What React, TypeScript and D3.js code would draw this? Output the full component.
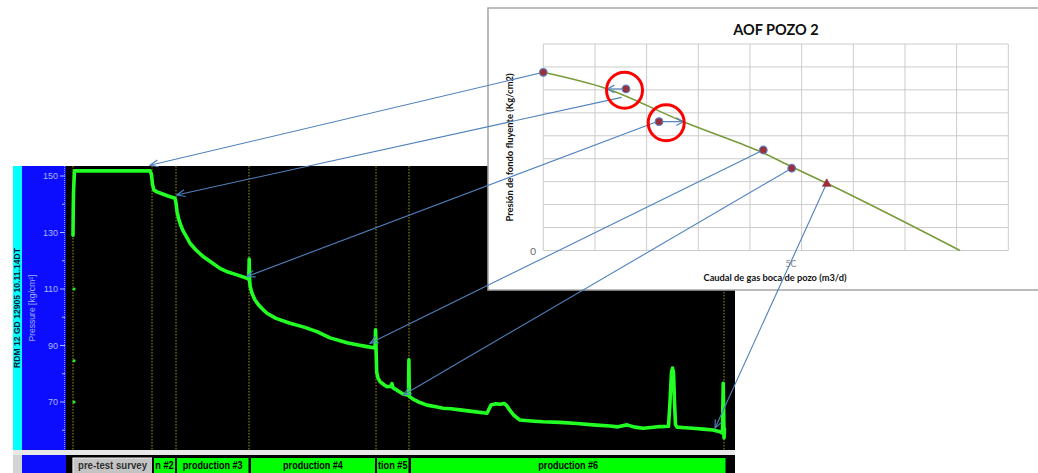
import React from "react";
import * as d3 from "d3";

const W = 1038;
const H = 473;

// Bottomhole pressure record: elapsed time (h) and pressure (kg/cm²)
const elapsedHours = [
  0.7, 0.72, 0.75, 0.8, 0.85, 3.0, 6.0, 8.4, 8.55, 8.65, 8.8, 9.1, 9.6, 10.2, 10.9,
  11.0, 11.1, 11.25, 11.5, 11.75, 12.1, 12.4, 13.0, 13.75, 14.6, 15.4, 16.2, 17.1, 18.1,
  18.28, 18.32, 18.36, 18.42, 18.6, 18.9, 19.3, 19.75, 20.1, 21.0, 22.4, 23.8, 25.1, 26.4,
  27.5, 28.1, 29.2, 30.1, 30.9, 30.96, 31.01, 31.07, 31.2, 31.4, 31.8, 32.1, 32.5, 32.6,
  32.7, 33.1, 33.7, 34.25, 34.29, 34.33, 34.7, 35.4, 36.1, 37.0, 37.7, 38.5, 39.4, 40.8,
  42.1, 42.3, 42.5, 43.0, 43.4, 43.8, 44.1, 44.4, 44.75, 45.4, 46.5, 47.7, 49.4, 51.1,
  52.7, 54.4, 55.2, 56.1, 56.9, 57.7, 58.5, 59.4, 60.25, 60.4, 60.55, 60.65, 60.75, 60.85,
  60.95, 61.1, 61.9, 62.7, 63.7, 64.7, 65.4, 65.65, 65.72, 65.77, 65.8, 65.85,
];
const pressure = [
  129.0, 137.0, 144.0, 148.0, 151.8, 151.8, 151.8, 151.8, 150.5, 147.0, 145.0, 144.4, 143.7, 142.9, 142.1,
  140.5, 137.5, 135.0, 132.3, 130.3, 128.2, 126.2, 123.8, 121.4, 119.3, 117.3, 116.0, 115.0, 113.8,
  113.4, 120.6, 113.0, 110.8, 108.5, 106.1, 104.2, 102.6, 101.4, 99.6, 97.9, 96.5, 94.9, 92.7,
  91.6, 91.0, 90.2, 89.6, 89.1, 95.6, 88.0, 80.5, 78.5, 77.2, 76.1, 75.4, 75.6, 76.5,
  75.0, 74.2, 72.8, 72.4, 84.9, 72.0, 71.0, 69.8, 68.9, 68.3, 67.8, 67.6, 67.2, 66.6,
  66.0, 67.5, 68.9, 69.4, 69.2, 69.5, 68.6, 67.0, 65.4, 63.6, 63.3, 63.0, 62.8, 62.4,
  61.9, 61.5, 61.2, 61.9, 61.1, 60.7, 61.0, 61.3, 61.4, 70.0, 80.5, 82.0, 80.5, 70.0,
  62.0, 61.1, 60.9, 60.7, 60.4, 60.1, 59.5, 59.0, 76.6, 66.0, 57.3, 60.5,
];

// Spot readings taken during the pre-test survey
const surveyHours = [0.8, 0.8, 0.8];
const surveyPressure = [110, 84.6, 70];

// Flow-period boundaries
const eventHours = [0.7, 8.6, 11.0, 18.3, 31.0, 34.3, 65.8];

// Flow periods as labelled on the bar (narrow periods show only the end of their name)
const phaseLabels = ["pre-test survey", "n #2", "production #3", "production #4", "tion #5", "production #6"];
const phaseStart = [0.7, 8.8, 11.1, 18.5, 31.1, 34.5];
const phaseEnd = [8.6, 10.9, 18.25, 30.9, 34.25, 65.95];

const pressureTicks = [70, 90, 110, 130, 150];
const pressureMinorTicks = [60, 80, 100, 120, 140];

// AOF curve: gas rate (m3/d) vs flowing bottomhole pressure (kg/cm2)
const aofFlow = [0, 12390, 27100, 38070, 41300, 48080, 54850, 80650];
const aofPressure = [155.3, 140.8, 112.3, 93.4, 87.6, 73.0, 58.6, 0];

// Test points plotted on the AOF chart
const testFlow = [0, 16000, 22400, 42580, 48080, 54850];
const testPressure = [155.3, 140.8, 112.3, 87.6, 71.7, 58.6];
const testMarker = ["circle", "circle", "circle", "circle", "circle", "triangle"];

// Shifted rates for the two flagged points
const flaggedFrom = [1, 2];
const correctedFlow = [12390, 27100];
const flagCenterFlow = [15720, 23790];
const flagCenterPressure = [139.7, 111.3];

// Connectors from AOF points to the matching pressure on the record
const linkFlow = [0, 15170, 21950, 42580, 48080, 54850];
const linkFlowPressure = [155.3, 133.5, 112.3, 87.6, 71.7, 58.6];
const linkHours = [8.4, 11.07, 18.07, 30.4, 33.73, 64.9];
const linkPressure = [153.8, 143.3, 114.4, 90.8, 72.5, 60.7];

const flowGrid = d3.range(0, 90001, 10000);
const pressureGrid = d3.range(0, 181, 20);

const NARROW = "'Liberation Sans Narrow', 'Liberation Sans', Arial, sans-serif";
const SANS = "'Liberation Sans', Arial, sans-serif";
const CAL = "Lato, 'Open Sans', sans-serif";

function arrowHead(x1: number, y1: number, x2: number, y2: number, len = 9, ang = 0.42) {
  const a = Math.atan2(y2 - y1, x2 - x1);
  return `M${x2 - len * Math.cos(a - ang)},${y2 - len * Math.sin(a - ang)}L${x2},${y2}L${x2 - len * Math.cos(a + ang)},${y2 - len * Math.sin(a + ang)}`;
}

export default function App() {
  // pressure record scales
  const x = d3.scaleLinear().domain([0, 66.9]).range([66, 735]);
  const y = d3.scaleLinear().domain([70, 150]).range([402, 176]);
  // AOF scales
  const qx = d3.scaleLinear().domain([0, 90000]).range([543.3, 1008.3]);
  const py = d3.scaleLinear().domain([0, 180]).range([250.5, 44]);

  const recordPath = d3
    .line<number>()
    .x((_, i) => x(elapsedHours[i]))
    .y((d) => y(d))(pressure) as string;

  const aofPath = d3
    .line<number>()
    .x((d) => qx(d))
    .y((_, i) => py(aofPressure[i]))
    .curve(d3.curveMonotoneX)(aofFlow) as string;

  const plotTop = 166;
  const plotBottom = 450;
  const rowTop = 455;
  const barTop = 458;
  const linkColor = "#4f81bd";

  return (
    <div style={{ position: "fixed", left: 0, top: 0 }}>
      <svg width={W} height={H} viewBox={`0 0 ${W} ${H}`} style={{ display: "block", background: "#fff" }}>
        <defs>
          <clipPath id="plot-clip">
            <rect x={66} y={plotTop} width={669} height={plotBottom - plotTop} />
          </clipPath>
          <clipPath id="side-clip">
            <rect x={13} y={rowTop} width={9} height={H - rowTop} />
          </clipPath>
        </defs>

        {/* pressure record panel */}
        <rect x={13} y={plotTop} width={9} height={plotBottom - plotTop} fill="#00ffff" />
        <rect x={22} y={plotTop} width={44} height={plotBottom - plotTop} fill="#0c0cff" />
        <rect x={66} y={plotTop} width={669} height={plotBottom - plotTop} fill="#000" />
        <text
          transform={`translate(19.5,308) rotate(-90)`}
          textAnchor="middle"
          fontFamily={NARROW}
          fontWeight="bold"
          fontSize={8.5}
          fill="#0a1a3a"
          textLength={120}
          lengthAdjust="spacingAndGlyphs"
        >
          RDM 12 GD 12905 10.11.14DT
        </text>
        <text
          transform={`translate(35,308) rotate(-90)`}
          textAnchor="middle"
          fontFamily={SANS}
          fontSize={8.5}
          fill="#9fb0ff"
          textLength={67}
          lengthAdjust="spacingAndGlyphs"
        >
          Pressure [kg/cm²]
        </text>
        <line x1={64.5} x2={64.5} y1={plotTop} y2={plotBottom} stroke="#8098ff" strokeDasharray="1,1" />
        {pressureTicks.map((t) => (
          <g key={t}>
            <line x1={60} x2={65} y1={y(t)} y2={y(t)} stroke="#a8b8ff" />
            <text x={58} y={y(t) + 3} textAnchor="end" fontFamily={SANS} fontSize={9} fill="#a8b8ff">
              {t}
            </text>
          </g>
        ))}
        {pressureMinorTicks.map((t) => (
          <line key={t} x1={62} x2={65} y1={y(t)} y2={y(t)} stroke="#a8b8ff" />
        ))}

        <g clipPath="url(#plot-clip)">
          {eventHours.map((h, i) => (
            <line
              key={i}
              x1={x(h)}
              x2={x(h)}
              y1={plotTop}
              y2={plotBottom}
              stroke="#a09a10"
              strokeWidth={1}
              strokeDasharray="1.5,1.5"
            />
          ))}
          <path d={recordPath} fill="none" stroke="#22ff22" strokeWidth={3.6} strokeLinejoin="round" strokeLinecap="round" />
          {surveyHours.map((h, i) => (
            <circle key={i} cx={x(h)} cy={y(surveyPressure[i])} r={1.6} fill="#22ee22" />
          ))}
        </g>

        {/* flow period bar */}
        <rect x={13} y={plotBottom} width={722} height={rowTop - plotBottom} fill="#e8e8e8" />
        <rect x={13} y={rowTop} width={9} height={H - rowTop} fill="#d4d4d4" />
        <text
          clipPath="url(#side-clip)"
          transform={`translate(20,${H}) rotate(-90)`}
          fontFamily={NARROW}
          fontWeight="bold"
          fontSize={8}
          fill="#333"
        >
          Pre
        </text>
        <rect x={22} y={rowTop} width={44} height={H - rowTop} fill="#0c0cff" />
        <rect x={66} y={rowTop} width={669} height={H - rowTop} fill="#000" />
        {phaseLabels.map((label, i) => {
          const x0 = x(phaseStart[i]);
          const x1 = x(phaseEnd[i]);
          const gray = i === 0;
          const width = label.length * 4.6;
          return (
            <g key={label}>
              <rect x={x0} y={barTop} width={x1 - x0} height={H - barTop} fill={gray ? "#c4c4c4" : "#00ff00"} />
              {gray && (
                <path d={`M${x0},${H}V${barTop}H${x1}`} fill="none" stroke="#f0f0f0" strokeWidth={1.2} />
              )}
              <text
                x={(x0 + x1) / 2}
                y={469}
                textAnchor="middle"
                fontFamily={NARROW}
                fontWeight="bold"
                fontSize={10.5}
                fill={gray ? "#303030" : "#000"}
                textLength={Math.min(width, x1 - x0 - 2)}
                lengthAdjust="spacingAndGlyphs"
              >
                {label}
              </text>
            </g>
          );
        })}

        {/* AOF chart */}
        <rect x={488} y={8} width={560} height={282} fill="#fff" stroke="#a6a6a6" strokeWidth={1.5} />
        <text x={776} y={35} textAnchor="middle" fontFamily={CAL} fontWeight="bold" fontSize={14.5} fill="#111">
          AOF POZO 2
        </text>
        {flowGrid.map((q) => (
          <line key={q} x1={qx(q)} x2={qx(q)} y1={py(180)} y2={py(0)} stroke="#cccccc" strokeWidth={1} />
        ))}
        {pressureGrid.map((p) => (
          <line key={p} x1={qx(0)} x2={qx(90000)} y1={py(p)} y2={py(p)} stroke="#cccccc" strokeWidth={1} />
        ))}
        <text x={536} y={py(0) + 4} textAnchor="end" fontFamily={CAL} fontSize={10} fill="#666">
          0
        </text>
        <text x={791} y={267} textAnchor="middle" fontFamily={CAL} fontSize={9} fill="#888">
          5C
        </text>
        <text
          transform={`translate(513,147.5) rotate(-90)`}
          textAnchor="middle"
          fontFamily={CAL}
          fontWeight="bold"
          fontSize={9.5}
          fill="#111"
          textLength={148}
          lengthAdjust="spacingAndGlyphs"
        >
          Presión de fondo fluyente (Kg/cm2)
        </text>
        <text
          x={775}
          y={281}
          textAnchor="middle"
          fontFamily={CAL}
          fontWeight="bold"
          fontSize={9.5}
          fill="#111"
          textLength={143}
          lengthAdjust="spacingAndGlyphs"
        >
          Caudal de gas boca de pozo (m3/d)
        </text>
        <path d={aofPath} fill="none" stroke="#7a9a3a" strokeWidth={1.6} />

        {/* rate corrections of the flagged points */}
        {flaggedFrom.map((k, j) => {
          const x1 = qx(testFlow[k]);
          const yy = py(testPressure[k]);
          const x2 = qx(correctedFlow[j]);
          return (
            <g key={k}>
              <line x1={x1} x2={x2} y1={yy} y2={yy} stroke={linkColor} strokeWidth={1.2} />
              <path d={arrowHead(x1, yy, x2, yy, 8, 0.5)} fill="none" stroke={linkColor} strokeWidth={1.2} />
            </g>
          );
        })}

        {/* connectors */}
        {linkFlow.map((q, i) => {
          const x1 = qx(q);
          const y1 = py(linkFlowPressure[i]);
          const x2 = x(linkHours[i]);
          const y2 = y(linkPressure[i]);
          return (
            <g key={i}>
              <line x1={x1} y1={y1} x2={x2} y2={y2} stroke={linkColor} strokeWidth={1.1} />
              <path d={arrowHead(x1, y1, x2, y2, 9, 0.4)} fill="none" stroke={linkColor} strokeWidth={1.1} />
            </g>
          );
        })}

        {/* test points */}
        {testFlow.map((q, i) => {
          const cx = qx(q);
          const cy = py(testPressure[i]);
          return testMarker[i] === "triangle" ? (
            <path
              key={i}
              d={`M${cx},${cy - 4.5}L${cx + 4.2},${cy + 3}L${cx - 4.2},${cy + 3}Z`}
              fill="#a3282f"
              stroke="#8a4060"
              strokeWidth={0.8}
            />
          ) : (
            <circle key={i} cx={cx} cy={cy} r={3.8} fill="#9a2f3a" stroke="#5b7fc0" strokeWidth={1.2} />
          );
        })}
        {flagCenterFlow.map((q, i) => (
          <circle key={i} cx={qx(q)} cy={py(flagCenterPressure[i])} r={18} fill="none" stroke="#ff0000" strokeWidth={3} />
        ))}
      </svg>
    </div>
  );
}
